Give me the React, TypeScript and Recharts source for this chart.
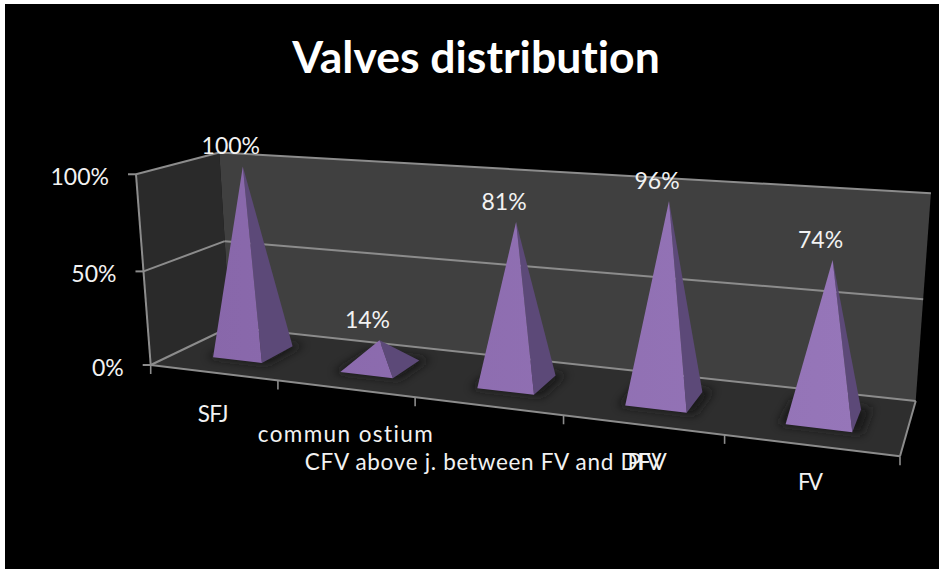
import { Bar, BarChart, Customized, LabelList, XAxis, YAxis } from 'recharts'

const categories = ['SFJ', 'commun ostium', 'CFV above j. between FV and DFV', 'PFV', 'FV']
const valves = [100, 14, 81, 96, 74]
const valueTicks = [0, 50, 100]

const W = 939
const H = 569
const PLOT = { left: 100, top: 100, width: 700, height: 360 }
const FONT = 'Lato, Carlito, sans-serif'
const TEXT = '#f2f2f2'
// category labels are staggered in the original: offsets from the floor edge and drawn widths
const labelDrop = [49, 53, 64, 45, 45]
const labelShift = [0, 0, -2, 2, 0]
const labelWidth = [31, 175, 362, 34, 25]

// perspective box: u along the categories, d into the depth, h up the value axis
function project(u: number, d: number, h: number) {
  const w = 1 - 0.182 * u + 0.0969 * d - 0.036 * h
  return {
    x: (150.7 + 585.5 * u + 101.6 * d - 19.6 * h) / w,
    y: (365 + 8.2 * u - 6.3 * d - 197 * h) / w,
  }
}

const pts = (list: number[][]) =>
  list
    .map(([u, d, h]) => {
      const p = project(u, d, h)
      return `${p.x.toFixed(1)},${p.y.toFixed(1)}`
    })
    .join(' ')

const GRID = '#8c8c8c'

function Walls() {
  const line = (a: number[], b: number[], key: string) => {
    const p = project(a[0], a[1], a[2])
    const q = project(b[0], b[1], b[2])
    return <line key={key} x1={p.x} y1={p.y} x2={q.x} y2={q.y} stroke={GRID} strokeWidth={2} />
  }
  return (
    <g>
      <defs>
        <filter id="baseShadow" x="-40%" y="-80%" width="180%" height="260%">
          <feGaussianBlur stdDeviation="5" />
        </filter>
        <linearGradient id="frontFace" gradientUnits="userSpaceOnUse" x1="200" x2="860" y1="0" y2="0">
          <stop offset="0%" stopColor="#8867aa" />
          <stop offset="100%" stopColor="#9676b9" />
        </linearGradient>
      </defs>
      <text
        x={476}
        y={73}
        textAnchor="middle"
        fill="#fff"
        fontFamily={FONT}
        fontWeight={700}
        fontSize={44.5}
        style={{ fontVariantLigatures: 'none' }}
      >
        Valves distribution
      </text>
      <polygon points={pts([[0, 0, 0], [0, 1, 0], [0, 1, 1], [0, 0, 1]])} fill="#2a2a2a" />
      <polygon points={pts([[0, 1, 0], [1, 1, 0], [1, 1, 1], [0, 1, 1]])} fill="#404040" />
      <polygon points={pts([[0, 0, 0], [1, 0, 0], [1, 1, 0], [0, 1, 0]])} fill="#2e2e2e" />
      {valueTicks.map(v => {
        const h = v / 100
        return (
          <g key={v}>
            {line([0, 0, h], [0, 1, h], `s${v}`)}
            {line([0, 1, h], [1, 1, h], `b${v}`)}
          </g>
        )
      })}
      {line([0, 0, 0], [0, 0, 1], 'fl')}
      {line([0, 0, 0], [1, 0, 0], 'ff')}
      {line([1, 0, 0], [1, 1, 0], 'fr')}
      {categories.concat('').map((_, i) => {
        const p = project(i / categories.length, 0, 0)
        return <line key={i} x1={p.x} y1={p.y} x2={p.x} y2={p.y + 9} stroke={GRID} strokeWidth={1.6} />
      })}
    </g>
  )
}

function Pyramid({ x, y, width }: any) {
  const u0 = (x - PLOT.left) / PLOT.width
  const u1 = (x + width - PLOT.left) / PLOT.width
  const h = (PLOT.top + PLOT.height - y) / PLOT.height
  const d0 = 0.3
  const d1 = 0.72
  const apex = [(u0 + u1) / 2, (d0 + d1) / 2, h]
  return (
    <g>
      <polygon
        points={pts([[u0 - 0.008, d0 - 0.02, 0], [u1 + 0.012, d0 - 0.02, 0], [u1 + 0.012, d1 + 0.06, 0], [u0 - 0.008, d1 + 0.06, 0]])}
        fill="#141414"
        opacity={0.85}
        filter="url(#baseShadow)"
      />
      <polygon points={pts([[u1, d0, 0], [u1, d1, 0], apex])} fill="#5c4978" />
      <polygon points={pts([[u0, d0, 0], [u1, d0, 0], apex])} fill="url(#frontFace)" />
    </g>
  )
}

function ValueLabel({ x, y, width, value }: any) {
  const u = (x + width / 2 - PLOT.left) / PLOT.width
  const h = (PLOT.top + PLOT.height - y) / PLOT.height
  const p = project(u, 0.51, h)
  return (
    <text x={p.x - 12} y={p.y - 12.5} textAnchor="middle" fill={TEXT} fontFamily={FONT} fontSize={23}>
      {`${value}%`}
    </text>
  )
}

function CategoryTick({ x, index, payload }: any) {
  const p = project((x - PLOT.left) / PLOT.width, 0, 0)
  return (
    <text
      x={p.x + labelShift[index]}
      y={p.y + labelDrop[index]}
      textAnchor="middle"
      fill={TEXT}
      fontFamily={FONT}
      fontSize={22.5}
      textLength={labelWidth[index]}
      style={{ fontVariantLigatures: 'none' }}
    >
      {payload.value}
    </text>
  )
}

function ValueTick({ y, payload }: any) {
  const p = project(0, 0, (PLOT.top + PLOT.height - y) / PLOT.height)
  return (
    <g>
      <line x1={p.x - 8} y1={p.y} x2={p.x} y2={p.y} stroke={GRID} strokeWidth={2} />
      <text x={p.x - 27} y={p.y + 11} textAnchor="end" fill={TEXT} fontFamily={FONT} fontSize={23}>
        {`${payload.value}%`}
      </text>
    </g>
  )
}

const data = categories.map((name, i) => ({ name, value: valves[i] }))

export default function App() {
  return (
    <div style={{ position: 'absolute', left: 0, top: 0, width: W, height: H, background: '#fff', overflow: 'hidden' }}>
      <div style={{ position: 'absolute', left: 5, top: 4, right: 0, bottom: 0, background: '#000' }} />
      <div style={{ position: 'absolute', left: 0, top: 0 }}>
        <BarChart
          width={W}
          height={H}
          data={data}
          barCategoryGap="30.5%"
          margin={{ left: PLOT.left - 1, top: PLOT.top, right: W - PLOT.left - PLOT.width, bottom: H - PLOT.top - PLOT.height - 1 }}
        >
          <Customized component={Walls} />
          <XAxis dataKey="name" height={1} axisLine={false} tickLine={false} interval={0} tick={CategoryTick} />
          <YAxis width={1} domain={[0, 100]} ticks={valueTicks} axisLine={false} tickLine={false} tick={ValueTick} />
          <Bar dataKey="value" shape={Pyramid} isAnimationActive={false}>
            <LabelList dataKey="value" content={ValueLabel} />
          </Bar>
        </BarChart>
      </div>
    </div>
  )
}
